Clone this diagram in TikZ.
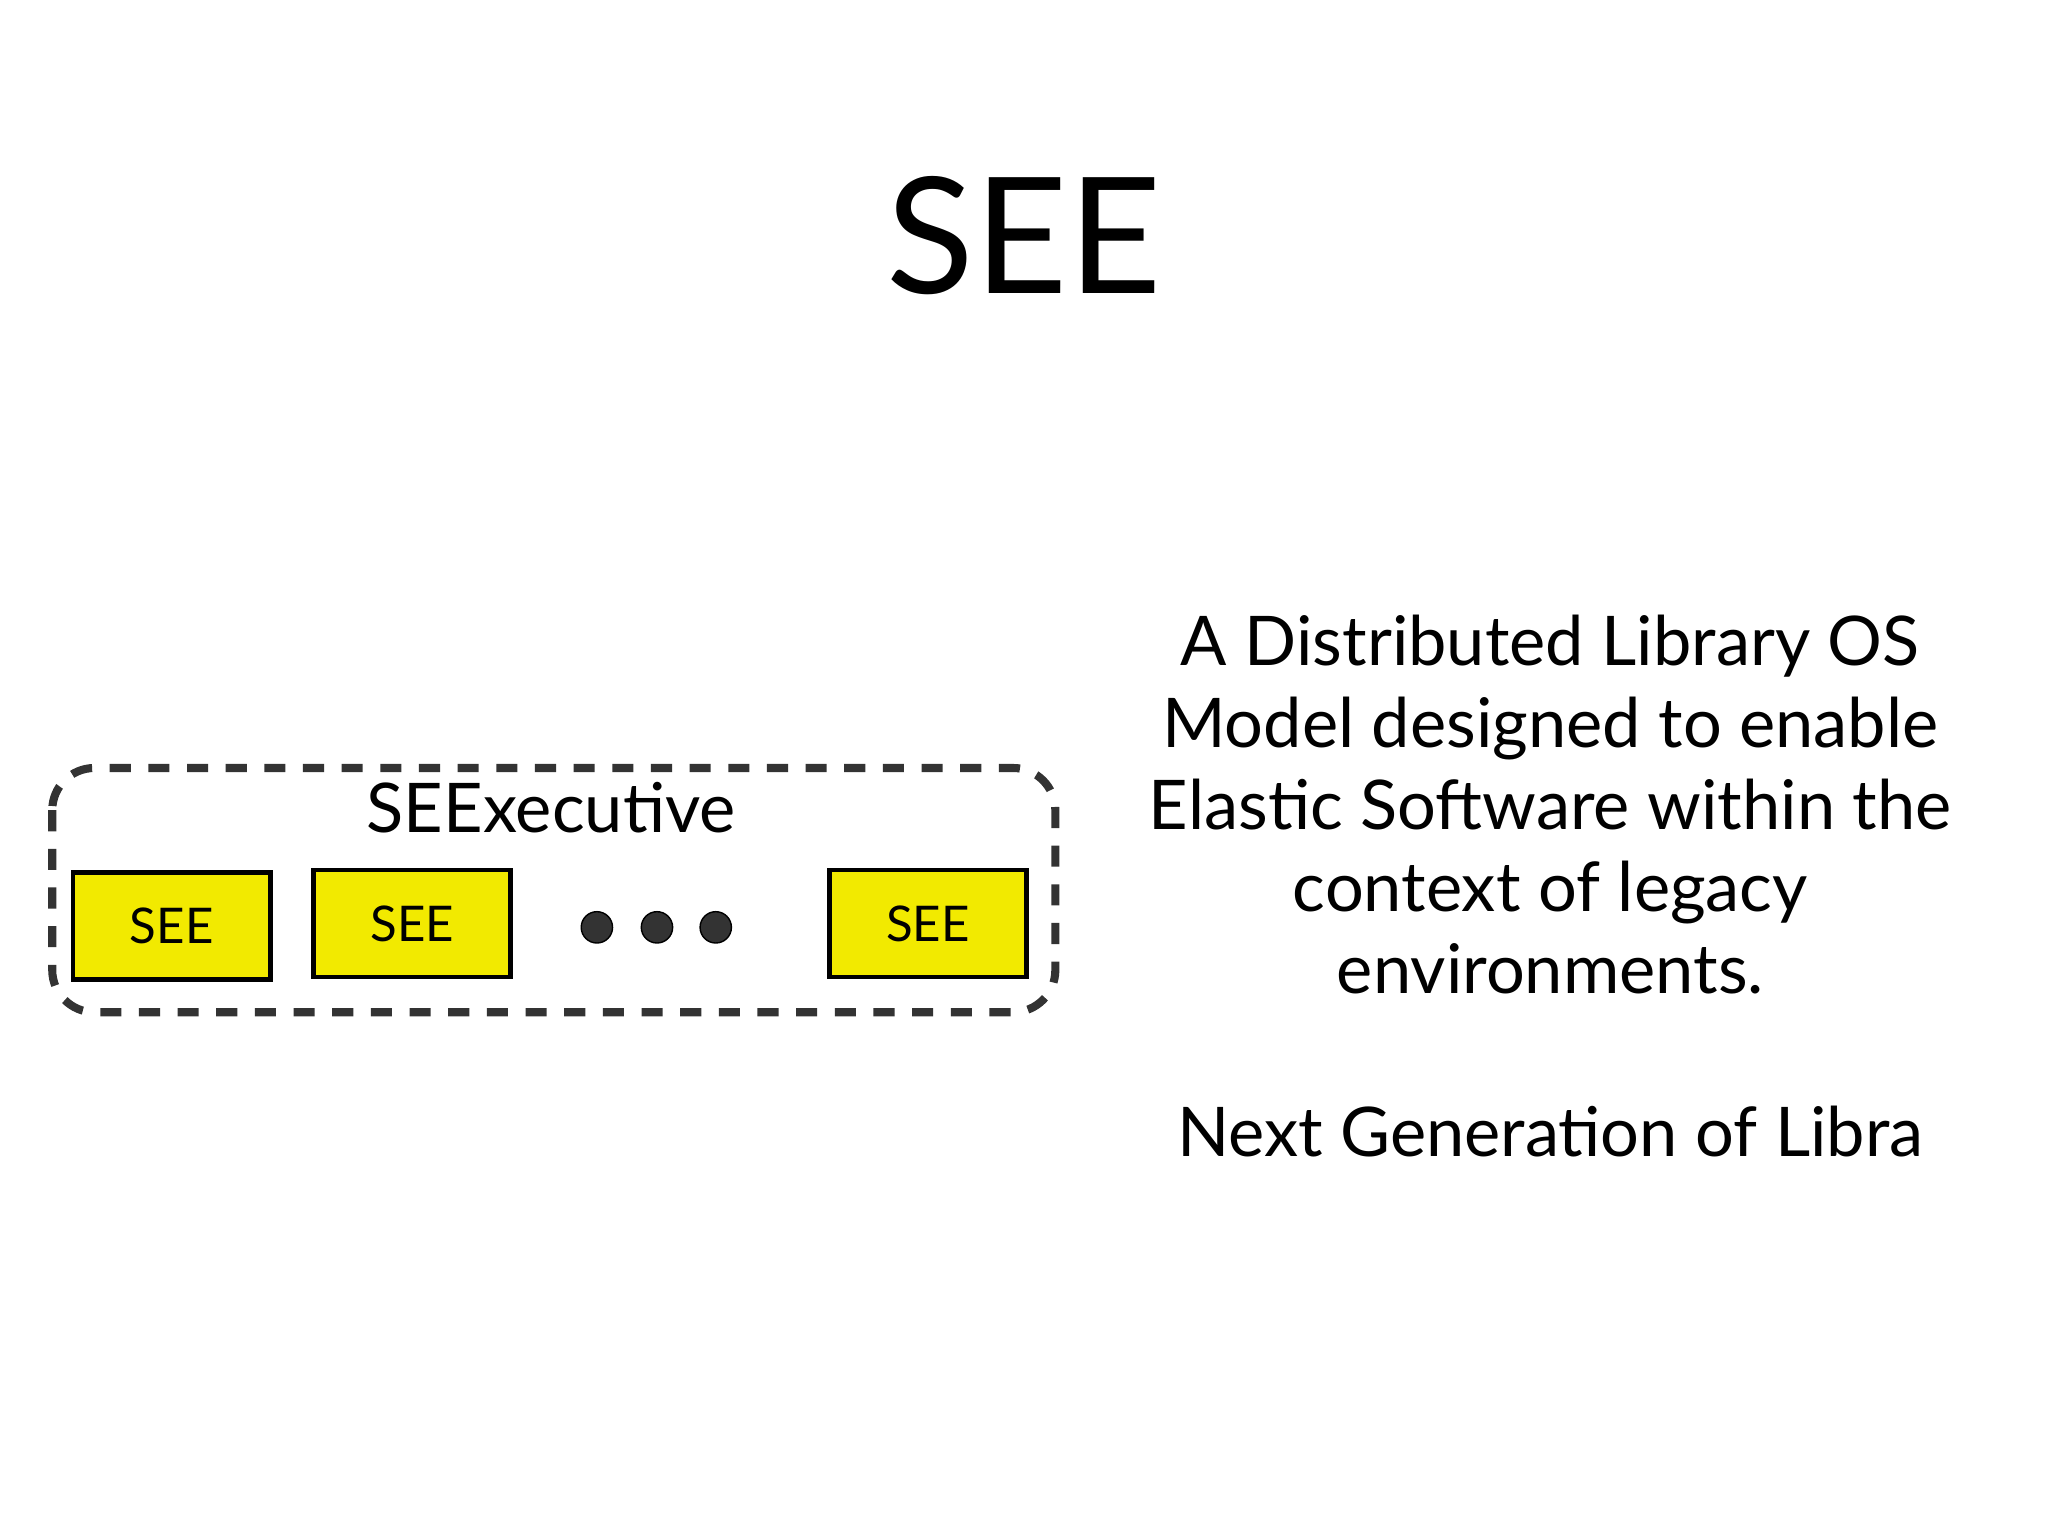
\documentclass[tikz,border=0pt]{standalone}
\usepackage{fontspec}
\setmainfont{Lato}
\definecolor{seeyellow}{HTML}{F2EA00}
\definecolor{dashgray}{HTML}{333333}
\begin{document}
\begin{tikzpicture}[x=0.01306cm,y=-0.01306cm,
  seebox/.style={draw=black,line width=1.3pt,fill=seeyellow,minimum width=151*0.01306cm,minimum height=82*0.01306cm,inner sep=0pt,font=\fontsize{14}{16}\selectfont},
  dotmark/.style={circle,fill=dashgray,draw=black,inner sep=0pt,minimum size=24*0.01306cm},
  body/.style={align=center,font=\fontsize{19.5}{23.3}\selectfont}]
\useasboundingbox (0,0) rectangle (1568,1176);
\node (title) at (784,180) {\fontsize{46}{52}\selectfont SEE};
\draw[dashgray,line width=2.3pt,dash pattern=on 6pt off 5pt,rounded corners=12pt] (40,588) rectangle (808,775);
\node (exec) at (422,618) {\fontsize{19.5}{24}\selectfont SEExecutive};
\node[seebox] (s1) at (131.5,709) {SEE};
\node[seebox] (s2) at (315.5,707) {SEE};
\node[seebox] (s3) at (710.5,707) {SEE};
\node[dotmark] (d1) at (457,710) {};
\node[dotmark] (d2) at (503,710) {};
\node[dotmark] (d3) at (548,710) {};
\node[body] (desc) at (1187,616) {A Distributed Library OS\\Model designed to enable\\Elastic Software within the\\context of legacy\\environments.};
\node[body] (next) at (1187,866) {Next Generation of Libra};
\end{tikzpicture}
\end{document}
